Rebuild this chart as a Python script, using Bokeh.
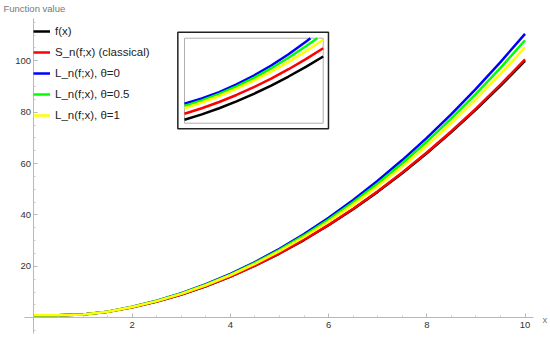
from bokeh.plotting import figure
from bokeh.models import Range1d, FixedTicker, Label
from bokeh.embed import file_html
from bokeh.resources import INLINE

# ---- data ----
x_vals = [0, 0.5, 1, 1.5, 2, 2.5, 3, 3.5, 4, 4.5, 5, 5.5, 6, 6.5, 7, 7.5, 8, 8.5, 9, 9.5, 10]
f_vals = [1.0, 1.0, 1.3, 2.3, 4.1, 6.33, 9.05, 12.28, 16.02, 20.26, 25.01, 30.25, 36.0, 42.25, 49.0, 56.25, 64.0, 72.25, 81.0, 90.25, 100.0]
s_vals = [1.0, 1.0, 1.3, 2.31, 4.11, 6.35, 9.08, 12.32, 16.07, 20.33, 25.10, 30.37, 36.15, 42.43, 49.22, 56.51, 64.30, 72.60, 81.40, 90.71, 100.53]
l0_vals = [1.0, 1.01, 1.33, 2.39, 4.29, 6.66, 9.57, 13.04, 17.08, 21.69, 26.87, 32.61, 38.93, 45.83, 53.31, 61.37, 70.01, 79.24, 89.07, 99.49, 110.5]
l05_vals = [1.0, 1.0, 1.32, 2.37, 4.24, 6.58, 9.44, 12.86, 16.83, 21.34, 26.42, 32.04, 38.23, 44.97, 52.27, 60.14, 68.57, 77.57, 87.13, 97.27, 107.98]
l1_vals = [1.0, 1.0, 1.32, 2.35, 4.19, 6.49, 9.31, 12.66, 16.55, 20.97, 25.94, 31.43, 37.46, 44.04, 51.15, 58.81, 67.01, 75.75, 85.04, 94.87, 105.25]

series_labels = ["f(x)", "S_n(f;x) (classical)", "L_n(f;x), \u03b8=0", "L_n(f;x), \u03b8=0.5", "L_n(f;x), \u03b8=1"]
series_colors = ["#000000", "#ff0000", "#0000ff", "#00ff00", "#ffff00"]

# inset (zoomed view), normalised coordinates
inset_u = [0, 0.125, 0.25, 0.375, 0.5, 0.625, 0.75, 0.875, 1.0]
inset_f = [0.04, 0.104, 0.176, 0.257, 0.346, 0.443, 0.549, 0.663, 0.785]
inset_s = [0.111, 0.176, 0.249, 0.332, 0.424, 0.525, 0.635, 0.754, 0.882]
inset_l1 = [0.176, 0.243, 0.32, 0.406, 0.502, 0.607, 0.722, 0.847, 0.981]
inset_u_l05 = [0, 0.125, 0.25, 0.375, 0.5, 0.625, 0.75, 0.875, 0.957]
inset_l05 = [0.202, 0.268, 0.345, 0.434, 0.534, 0.646, 0.77, 0.905, 1.0]
inset_u_l0 = [0, 0.125, 0.25, 0.375, 0.5, 0.625, 0.75, 0.875, 0.908]
inset_l0 = [0.228, 0.29, 0.366, 0.456, 0.561, 0.679, 0.812, 0.958, 1.0]

x_major = [2, 4, 6, 8, 10]
x_minor = [0.5, 1, 1.5, 2.5, 3, 3.5, 4.5, 5, 5.5, 6.5, 7, 7.5, 8.5, 9, 9.5]
y_major = [20, 40, 60, 80, 100]
y_minor = [-5, 5, 10, 15, 25, 30, 35, 45, 50, 55, 65, 70, 75, 85, 90, 95, 105, 110, 115]

FONT = "Liberation Sans"

p = figure(width=550, height=337, output_backend="svg", toolbar_location=None,
           x_range=Range1d(-0.682, 10.519), y_range=Range1d(-7.67, 123.46),
           min_border_left=0, min_border_right=0, min_border_top=0, min_border_bottom=0)
p.outline_line_color = None
p.grid.visible = False
p.background_fill_color = "white"

for ax in (p.xaxis[0], p.yaxis[0]):
    ax.fixed_location = 0
    ax.axis_line_color = "#b8b8b8"
    ax.major_tick_line_color = "#b8b8b8"
    ax.minor_tick_line_color = "#c8c8c8"
    ax.major_tick_in = 4
    ax.major_tick_out = 0
    ax.minor_tick_in = 2
    ax.minor_tick_out = 0
    ax.major_label_text_font = FONT
    ax.major_label_text_font_size = "9.5px"
    ax.major_label_text_color = "#333333"
p.xaxis[0].major_label_standoff = 4
p.yaxis[0].major_label_standoff = 3
p.xaxis[0].ticker = FixedTicker(ticks=x_major, minor_ticks=x_minor)
p.yaxis[0].ticker = FixedTicker(ticks=y_major, minor_ticks=y_minor)
p.xaxis[0].bounds = (-0.193, 10.17)
p.yaxis[0].bounds = (-6.1, 116.5)

all_vals = [f_vals, s_vals, l0_vals, l05_vals, l1_vals]
for vals, lab, col in zip(all_vals, series_labels, series_colors):
    p.line(x_vals, vals, line_color=col, line_width=2.5, legend_label=lab)

leg = p.legend[0]
leg.location = (33, 212)
leg.border_line_color = None
leg.background_fill_alpha = 0
leg.padding = 0
leg.margin = 0
leg.spacing = 1
leg.glyph_width = 17
leg.glyph_height = 20
leg.label_height = 20
leg.label_standoff = 5
leg.label_text_font = FONT
leg.label_text_font_size = "11.5px"
leg.label_text_color = "#222222"

# inset
sub = p.subplot(x_source=Range1d(0, 1), y_source=Range1d(0, 1),
                x_target=Range1d(3.065, 5.89), y_target=Range1d(75.72, 108.79))
sub.quad(left=-0.048, right=1.038, bottom=-0.066, top=1.071,
         fill_color="white", line_color="#222222", line_width=1.5)
sub.quad(left=0, right=1, bottom=0, top=1, fill_color=None,
         line_color="#b0b0b0", line_width=1)
inset_series = [(inset_u, inset_f), (inset_u, inset_s), (inset_u_l0, inset_l0),
                (inset_u_l05, inset_l05), (inset_u, inset_l1)]
for (ux, uy), col in zip(inset_series, series_colors):
    sub.line(ux, uy, line_color=col, line_width=2.5)

p.add_layout(Label(x=-0.621, y=122.5, text="Function value", text_font=FONT,
                   text_font_size="9.5px", text_color="#777777", text_baseline="top"))
p.add_layout(Label(x=10.356, y=-0.6, text="x", text_font=FONT,
                   text_font_size="9.5px", text_color="#777777", text_baseline="middle"))

open("out.html", "w").write(file_html(p, INLINE))
